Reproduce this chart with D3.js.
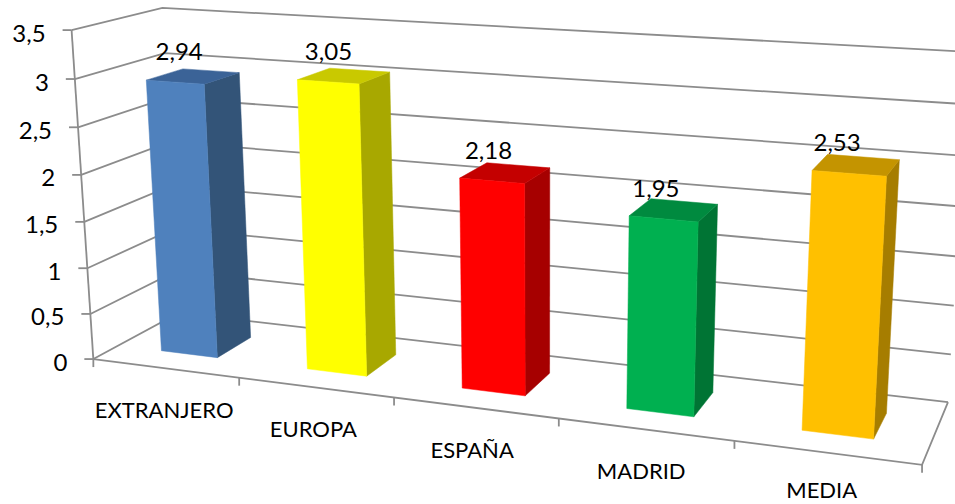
<!DOCTYPE html>
<html><head><meta charset="utf-8">
<script src="https://cdn.jsdelivr.net/npm/d3@7"></script>
<style>html,body{margin:0;padding:0;background:#fff;overflow:hidden}svg{display:block}text{font-family:Lato,sans-serif;fill:#000}</style>
</head><body><svg id="c" width="955" height="504"></svg>
<script>
const categories = ["EXTRANJERO","EUROPA","ESPAÑA","MADRID","MEDIA"];
const values = [2.94,3.05,2.18,1.95,2.53];
const valueTicks = [0,0.5,1,1.5,2,2.5,3,3.5];
const frontColors = ["#4F81BD","#FFFF00","#FF0000","#00B050","#FFC000"];
const sideColors = ["#335478","#A8A800","#A60000","#007434","#A67D00"];
const topColors = ["#3B6397","#C9C900","#C40000","#008A3F","#C49400"];
const fmt = v => String(v).replace(".",",");

// Projective camera fitted to the plot box corners
const anchors = [
 [0,0,0,93,359],[1,0,0,922,465],[0,0,1,179,313],[1,0,1,948,402],
 [0,1,0,72,30],[0,1,1,162,8],[1,1,1,969,52]
];
function solveCamera(pts){
  const rows=[],rhs=[];
  pts.forEach(([x,y,z,u,v])=>{
    rows.push([x,y,z,1,0,0,0,0,-u*x,-u*y,-u*z]);rhs.push(u);
    rows.push([0,0,0,0,x,y,z,1,-v*x,-v*y,-v*z]);rhs.push(v);
  });
  const n=11,M=d3.range(n).map(i=>d3.range(n+1).map(j=>{
    let s=0;rows.forEach((r,k)=>{s+=r[i]*(j<n?r[j]:rhs[k]);});return s;}));
  for(let i=0;i<n;i++){
    let p=i;for(let k=i+1;k<n;k++)if(Math.abs(M[k][i])>Math.abs(M[p][i]))p=k;
    [M[i],M[p]]=[M[p],M[i]];
    for(let k=0;k<n;k++)if(k!==i){const f=M[k][i]/M[i][i];for(let j=i;j<=n;j++)M[k][j]-=f*M[i][j];}
  }
  return M.map((r,i)=>r[n]/r[i]);
}
const c=solveCamera(anchors);
const project=(x,y,z)=>{const w=c[8]*x+c[9]*y+c[10]*z+1;
  return [(c[0]*x+c[1]*y+c[2]*z+c[3])/w,(c[4]*x+c[5]*y+c[6]*z+c[7])/w];};

const xBand=d3.scaleBand().domain(categories).range([0,1.001]).paddingInner(0.61).paddingOuter(0.305);
const xStep=d3.scaleLinear().domain([0,categories.length]).range([0,1]);
const yScale=d3.scaleLinear().domain([0,3.5]).range([0,1]);
const barZ=[0.28,0.70];
const labelX=d3.scaleLinear().domain([179,852]).range([183,840]);

const svg=d3.select("#c");
const line=d3.line();
const GRID="#8C8C8C";
const gGrid=svg.append("g").attr("fill","none").attr("stroke",GRID).attr("stroke-width",1.8);
gGrid.selectAll("path.g").data(valueTicks).join("path")
  .attr("d",v=>line([project(0,yScale(v),0),project(0,yScale(v),1),project(1,yScale(v),1)]));
gGrid.append("path").attr("d",line([project(0,1,0),project(0,0,0)]));
gGrid.append("path").attr("d",line([project(0,0,0),project(1,0,0),project(1,0,1)]));
gGrid.selectAll("path.vt").data(valueTicks).join("path").attr("class","vt")
  .attr("d",v=>{const p=project(0,yScale(v),0);return line([[p[0]-9,p[1]],p]);});
gGrid.selectAll("path.xt").data(d3.range(categories.length+1)).join("path").attr("class","xt")
  .attr("d",i=>{const p=project(xStep(i),0,0);return line([p,[p[0],p[1]+8]]);});

const bars=svg.append("g").selectAll("g").data(categories).join("g");
bars.each(function(cat,i){
  const g=d3.select(this),x0=xBand(cat),x1=x0+xBand.bandwidth(),h=yScale(values[i]),[z0,z1]=barZ;
  const poly=(pts,col)=>g.append("path").attr("d",line(pts.map(p=>project(...p)))+"Z").attr("fill",col).attr("stroke",col).attr("stroke-width",.5);
  poly([[x1,0,z0],[x1,0,z1],[x1,h,z1],[x1,h,z0]],sideColors[i]);
  poly([[x0,h,z0],[x1,h,z0],[x1,h,z1],[x0,h,z1]],topColors[i]);
  poly([[x0,0,z0],[x1,0,z0],[x1,h,z0],[x0,h,z0]],frontColors[i]);
});

svg.append("g").selectAll("text").data(valueTicks).join("text")
  .attr("font-size",24).attr("text-anchor","end").attr("dominant-baseline","central")
  .attr("x",v=>project(0,yScale(v),0)[0]-26).attr("y",v=>project(0,yScale(v),0)[1]+2).text(v=>fmt(v));
svg.append("g").selectAll("text").data(categories).join("text")
  .attr("font-size",22).attr("text-anchor","middle")
  .attr("x",(d,i)=>project(xStep(i+0.5),0,0)[0]-i-1).attr("y",(d,i)=>Math.min(project(xStep(i+0.5),0,0)[1]+50,498)).text(d=>d);
svg.append("g").selectAll("text").data(categories).join("text")
  .attr("font-size",24).attr("text-anchor","middle")
  .attr("x",(d,i)=>labelX(project(xBand(d)+xBand.bandwidth()/2,yScale(values[i]),barZ[0])[0]))
  .attr("y",(d,i)=>project(xBand(d)+xBand.bandwidth()/2,yScale(values[i]),barZ[0])[1]-22).text((d,i)=>fmt(values[i]));
</script></body></html>
